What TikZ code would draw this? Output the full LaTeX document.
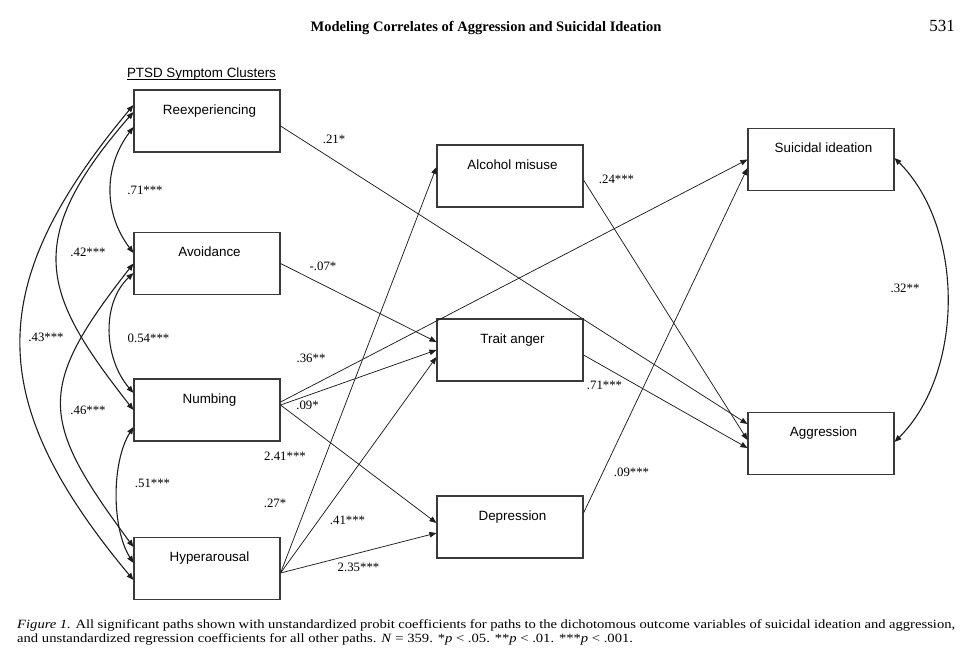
\documentclass[tikz,border=0pt]{standalone}
\usepackage{fontspec}
\setmainfont{Liberation Serif}
\newfontfamily\arialf{Liberation Sans}
\usetikzlibrary{arrows.meta}
\definecolor{boxc}{HTML}{3A3A3A}
\definecolor{linec}{HTML}{1E1E1E}
\begin{document}
\begin{tikzpicture}[x=1pt,y=-1pt,
  box/.style={draw=boxc, line width=1.1pt, minimum width=146pt, minimum height=62pt,
    inner sep=0pt, font=\arialf\fontsize{13.4}{14}\selectfont, text height=10pt, text depth=24pt,
    execute at begin node={\hspace*{5pt}}},
  pth/.style={draw=linec, line width=0.75pt, -{Triangle[length=7pt,width=5.5pt]}},
  cov/.style={draw=linec, line width=1.1pt, {Triangle[length=7pt,width=5.5pt]}-{Triangle[length=7pt,width=5.5pt]}},
  num/.style={font=\fontsize{12.8}{14}\selectfont, inner sep=0pt},
  captxt/.style={anchor=base west, inner sep=0pt, font=\fontsize{12.6}{14}\selectfont}
]
\path[use as bounding box] (0,0) rectangle (965,656);

% header
\node[font=\bfseries\fontsize{14.5}{16}\selectfont, anchor=base, inner sep=0pt] (title) at (486,31) {Modeling Correlates of Aggression and Suicidal Ideation};
\node[font=\fontsize{17}{18}\selectfont, anchor=base east, inner sep=0pt] (page) at (955,31) {531};

\node[font=\arialf\fontsize{13.4}{14}\selectfont, anchor=base, inner sep=0pt] (ptsd) at (201.5,77) {PTSD Symptom Clusters};
\draw[line width=0.6pt] ([yshift=-1.8pt]ptsd.base west) -- ([yshift=-1.8pt]ptsd.base east);

% boxes
\node[box] (reex)  at (207,121)   {Reexperiencing};
\node[box] (avoid) at (207,263.5) {Avoidance};
\node[box] (numb)  at (207,410)   {Numbing};
\node[box] (hyper) at (207,568.5) {Hyperarousal};
\node[box] (alc)   at (510,176)   {Alcohol misuse};
\node[box] (anger) at (510,350)   {Trait anger};
\node[box] (dep)   at (510,527)   {Depression};
\node[box] (sui)   at (821,159.5) {Suicidal ideation};
\node[box] (agg)   at (821,443.5) {Aggression};

% covariances among PTSD clusters
\draw[cov] ([yshift=-6pt]reex.west) .. controls +(-30,40) and +(-30,-40) .. ([yshift=10.5pt]avoid.west);
\draw[cov] ([yshift=9pt]reex.west) .. controls +(-113,130) and +(-90,-115) .. (numb.west);
\draw[cov] ([yshift=16pt]reex.west) .. controls +(-150,180) and +(-150,-180) .. ([yshift=-11.5pt]hyper.west);
\draw[cov] ([yshift=-9.5pt]avoid.west) .. controls +(-32,30) and +(-30,-35) .. ([yshift=17pt]numb.west);
\draw[cov] (avoid.west) .. controls +(-98,125) and +(-94,-127) .. ([yshift=21.5pt]hyper.west);
\draw[cov] ([yshift=-17pt]numb.west) .. controls +(-22,35) and +(-22,-35) .. ([yshift=5.5pt]hyper.west);
\draw[cov] ([yshift=1.5pt]sui.east) .. controls +(70,70) and +(70,-70) .. ([yshift=1.5pt]agg.east);

% paths
\draw[pth] ([yshift=-5pt]reex.east) -- ([yshift=19.5pt]agg.west);
\draw[pth] (avoid.east) -- ([yshift=8pt]anger.west);
\draw[pth] ([yshift=8pt]numb.east) -- (sui.west);
\draw[pth] ([yshift=5pt]numb.east) -- (anger.west);
\draw[pth] ([yshift=5pt]numb.east) -- ([yshift=4pt]dep.west);
\draw[pth] ([yshift=-4.5pt]hyper.east) -- ([yshift=9pt]alc.west);
\draw[pth] ([yshift=-4.5pt]hyper.east) -- ([yshift=-7pt]anger.west);
\draw[pth] ([yshift=-4.5pt]hyper.east) -- ([yshift=-6pt]dep.west);
\draw[pth] ([yshift=-4pt]alc.east) -- ([yshift=3.5pt]agg.west);
\draw[pth] ([yshift=-5pt]anger.east) -- ([yshift=-4.5pt]agg.west);
\draw[pth] ([yshift=14pt]dep.east) -- ([yshift=-8.5pt]sui.west);

% coefficient labels
\node[num] (l71a) at (145,190) {.71***};
\node[num] (l42)  at (88,252)  {.42***};
\node[num] (l43)  at (46,337)  {.43***};
\node[num] (l54)  at (148.5,338) {0.54***};
\node[num] (l46)  at (88,410)  {.46***};
\node[num] (l51)  at (152.5,483) {.51***};
\node[num] (l21)  at (334,139) {.21*};
\node[num] (l07)  at (323,266) {-.07*};
\node[num] (l36)  at (311,358) {.36**};
\node[num] (l09a) at (307.5,405) {.09*};
\node[num] (l241) at (285,456) {2.41***};
\node[num] (l27)  at (275,503) {.27*};
\node[num] (l41)  at (347.5,520) {.41***};
\node[num] (l235) at (358.5,567) {2.35***};
\node[num] (l24)  at (616.5,179) {.24***};
\node[num] (l71b) at (604.5,385) {.71***};
\node[num] (l09b) at (631.5,472) {.09***};
\node[num] (l32)  at (905,288) {.32**};

% caption
\node[captxt] (cap1) at (17,628) {\scalebox{1.16}[1]{\makebox[808.6pt][s]{\textit{Figure 1.} All significant paths shown with unstandardized probit coefficients for paths to the dichotomous outcome variables of suicidal ideation and aggression,}}};
\node[captxt] (cap2) at (17,642) {\scalebox{1.16}[1]{and unstandardized regression coefficients for all other paths. \textit{N} = 359. *\textit{p} < .05. **\textit{p} < .01. ***\textit{p} < .001.}};
\end{tikzpicture}
\end{document}
